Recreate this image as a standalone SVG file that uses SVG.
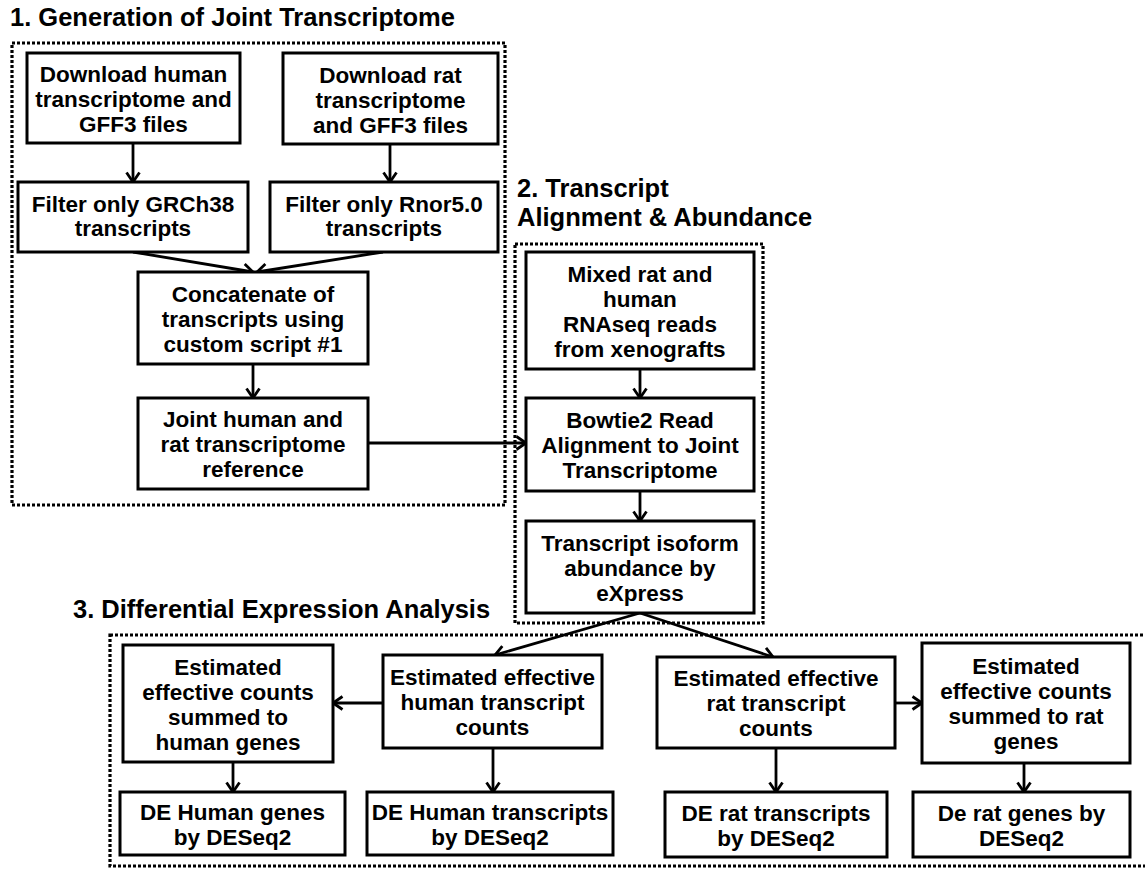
<svg xmlns="http://www.w3.org/2000/svg" width="1145" height="869" viewBox="0 0 1145 869">
<style>
.t{font-family:"Liberation Sans",Arial,sans-serif;font-weight:bold;fill:#000}
.title{font-size:25.5px}
.n{font-size:22.5px;text-anchor:middle}
.box{fill:#fff;stroke:#000;stroke-width:3}
.sec{fill:none;stroke:#000;stroke-width:3.2;stroke-dasharray:3 2}
.c{fill:none;stroke:#000;stroke-width:2.8}
</style>
<defs>
<marker id="ah" markerUnits="userSpaceOnUse" viewBox="0 0 12 16" refX="10.5" refY="8" markerWidth="12" markerHeight="16" orient="auto" overflow="visible">
<path d="M1,1.5 L10.5,8 L1,14.5" fill="none" stroke="#000" stroke-width="2.8"/>
</marker>
</defs>
<rect width="1145" height="869" fill="#fff"/>
<g id="sections">
<rect class="sec" x="12" y="43" width="493" height="462"/>
<rect class="sec" x="515" y="244" width="248" height="379"/>
<rect class="sec" x="110" y="635" width="1050" height="231"/>
<text class="t title" x="10" y="26">1. Generation of Joint Transcriptome</text>
<text class="t title" x="517" y="197">2. Transcript</text>
<text class="t title" x="517" y="226">Alignment &amp; Abundance</text>
<text class="t title" x="73" y="618">3. Differential Expression Analysis</text>
</g>
<g id="connectors">
<path class="c" d="M133,143 L133,182" marker-end="url(#ah)"/>
<path class="c" d="M390,144 L390,182" marker-end="url(#ah)"/>
<path class="c" d="M133,252 L253,272" marker-end="url(#ah)"/>
<path class="c" d="M383,252 L257,272" marker-end="url(#ah)"/>
<path class="c" d="M253,364 L253,398" marker-end="url(#ah)"/>
<path class="c" d="M368,443 L526,443" marker-end="url(#ah)"/>
<path class="c" d="M640,369 L640,398" marker-end="url(#ah)"/>
<path class="c" d="M640,491 L640,521" marker-end="url(#ah)"/>
<path class="c" d="M640,613 L495,655" marker-end="url(#ah)"/>
<path class="c" d="M640,613 L773,657" marker-end="url(#ah)"/>
<path class="c" d="M383,703 L333,703" marker-end="url(#ah)"/>
<path class="c" d="M233,762 L233,792" marker-end="url(#ah)"/>
<path class="c" d="M493,748 L493,792" marker-end="url(#ah)"/>
<path class="c" d="M776,748 L776,792" marker-end="url(#ah)"/>
<path class="c" d="M895,703 L922,703" marker-end="url(#ah)"/>
<path class="c" d="M1024,763 L1024,792" marker-end="url(#ah)"/>
</g>
<g id="n1"><rect class="box" x="27" y="53" width="213" height="90"/>
<text class="t n"><tspan x="133.5" y="82">Download human</tspan><tspan x="133.5" y="107">transcriptome and</tspan><tspan x="133.5" y="132">GFF3 files</tspan></text></g>
<g id="n2"><rect class="box" x="283" y="53" width="215" height="91"/>
<text class="t n"><tspan x="390.5" y="82.5">Download rat</tspan><tspan x="390.5" y="107.5">transcriptome</tspan><tspan x="390.5" y="132.5">and GFF3 files</tspan></text></g>
<g id="n3"><rect class="box" x="18" y="182" width="230" height="70"/>
<text class="t n"><tspan x="133" y="212">Filter only GRCh38</tspan><tspan x="133" y="236">transcripts</tspan></text></g>
<g id="n4"><rect class="box" x="270" y="182" width="228" height="70"/>
<text class="t n"><tspan x="384" y="212">Filter only Rnor5.0</tspan><tspan x="384" y="236">transcripts</tspan></text></g>
<g id="n5"><rect class="box" x="138" y="272" width="230" height="92"/>
<text class="t n"><tspan x="253" y="301.5">Concatenate of</tspan><tspan x="253" y="326.5">transcripts using</tspan><tspan x="253" y="351.5">custom script #1</tspan></text></g>
<g id="n6"><rect class="box" x="138" y="398" width="230" height="91"/>
<text class="t n"><tspan x="253" y="427">Joint human and</tspan><tspan x="253" y="452">rat transcriptome</tspan><tspan x="253" y="477">reference</tspan></text></g>
<g id="n7"><rect class="box" x="526" y="252" width="228" height="117"/>
<text class="t n"><tspan x="640" y="281.5">Mixed rat and</tspan><tspan x="640" y="306.5">human</tspan><tspan x="640" y="331.5">RNAseq reads</tspan><tspan x="640" y="356.5">from xenografts</tspan></text></g>
<g id="n8"><rect class="box" x="526" y="398" width="228" height="93"/>
<text class="t n"><tspan x="640" y="428">Bowtie2 Read</tspan><tspan x="640" y="453">Alignment to Joint</tspan><tspan x="640" y="478">Transcriptome</tspan></text></g>
<g id="n9"><rect class="box" x="526" y="521" width="228" height="92"/>
<text class="t n"><tspan x="640" y="550.5">Transcript isoform</tspan><tspan x="640" y="575.5">abundance by</tspan><tspan x="640" y="600.5">eXpress</tspan></text></g>
<g id="n10"><rect class="box" x="123" y="645" width="210" height="117"/>
<text class="t n"><tspan x="228" y="674.5">Estimated</tspan><tspan x="228" y="699.5">effective counts</tspan><tspan x="228" y="724.5">summed to</tspan><tspan x="228" y="749.5">human genes</tspan></text></g>
<g id="n11"><rect class="box" x="383" y="655" width="219" height="93"/>
<text class="t n"><tspan x="492.5" y="685">Estimated effective</tspan><tspan x="492.5" y="710">human transcript</tspan><tspan x="492.5" y="735">counts</tspan></text></g>
<g id="n12"><rect class="box" x="657" y="657" width="238" height="91"/>
<text class="t n"><tspan x="776" y="686">Estimated effective</tspan><tspan x="776" y="711">rat transcript</tspan><tspan x="776" y="736">counts</tspan></text></g>
<g id="n13"><rect class="box" x="922" y="643" width="208" height="120"/>
<text class="t n"><tspan x="1026" y="674">Estimated</tspan><tspan x="1026" y="699">effective counts</tspan><tspan x="1026" y="724">summed to rat</tspan><tspan x="1026" y="749">genes</tspan></text></g>
<g id="n14"><rect class="box" x="120" y="792" width="225" height="63"/>
<text class="t n"><tspan x="232.5" y="819.5">DE Human genes</tspan><tspan x="232.5" y="844.5">by DESeq2</tspan></text></g>
<g id="n15"><rect class="box" x="367" y="792" width="246" height="63"/>
<text class="t n"><tspan x="490" y="819.5">DE Human transcripts</tspan><tspan x="490" y="844.5">by DESeq2</tspan></text></g>
<g id="n16"><rect class="box" x="665" y="792" width="222" height="65"/>
<text class="t n"><tspan x="776" y="820.5">DE rat transcripts</tspan><tspan x="776" y="845.5">by DESeq2</tspan></text></g>
<g id="n17"><rect class="box" x="913" y="792" width="217" height="65"/>
<text class="t n"><tspan x="1021.5" y="820.5">De rat genes by</tspan><tspan x="1021.5" y="845.5">DESeq2</tspan></text></g>
</svg>
